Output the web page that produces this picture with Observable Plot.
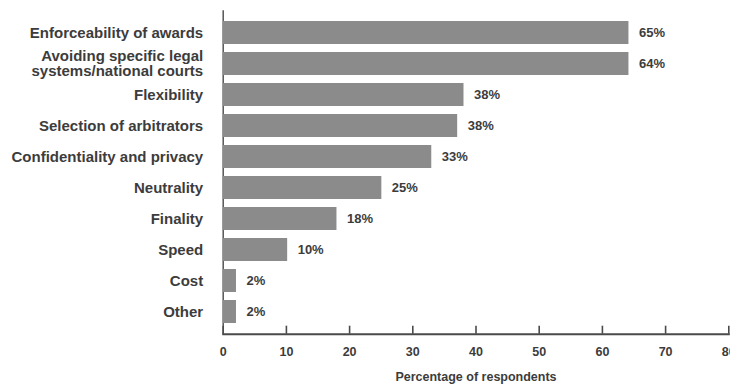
<!DOCTYPE html>
<html><head><meta charset="utf-8">
<script src="https://cdn.jsdelivr.net/npm/d3@7"></script>
<script src="https://cdn.jsdelivr.net/npm/@observablehq/plot@0.6"></script>
<style>body{margin:0;background:#fff;overflow:hidden;}</style>
</head><body><div id="chart"></div>
<script>
const categories = [
  "Enforceability of awards",
  "Avoiding specific legal\nsystems/national courts",
  "Flexibility",
  "Selection of arbitrators",
  "Confidentiality and privacy",
  "Neutrality",
  "Finality",
  "Speed",
  "Cost",
  "Other"
];
const barValues = [64.2, 64.2, 38.1, 37.1, 33, 25.1, 18, 10.2, 2.1, 2.1];
const valueLabels = ["65%", "64%", "38%", "38%", "33%", "25%", "18%", "10%", "2%", "2%"];
const xTicks = [0, 10, 20, 30, 40, 50, 60, 70, 80];
const xTitle = "Percentage of respondents";

const data = categories.map((c, i) => ({cat: c, value: barValues[i], label: valueLabels[i]}));

const W = 730, H = 384, mTop = 10.3, mBottom = 50.3;
const frameH = H - mTop - mBottom;

const chart = Plot.plot({
  width: W, height: H,
  marginLeft: 222.7, marginRight: 1.7, marginTop: mTop, marginBottom: mBottom,
  style: {fontFamily: "'Liberation Sans', Arial, sans-serif", color: "#3c3c3c", background: "#fff", overflow: "visible"},
  x: {domain: [0, 80]},
  y: {domain: categories, paddingInner: 0.26, paddingOuter: 0.21},
  marks: [
    Plot.ruleX([0], {stroke: "#555", strokeWidth: 1.5}),
    Plot.barX(data, {x: "value", y: "cat", fill: "#8b8b8b"}),
    Plot.text(data, {x: "value", y: "cat", text: "label", dx: 10, textAnchor: "start", fontWeight: "bold", fontSize: 13, fill: "#3c3c3c"}),
    Plot.frame({anchor: "bottom", stroke: "#4a4a4a", strokeWidth: 2}),
    Plot.tickX(xTicks, {x: d => d, insetTop: frameH - 8, stroke: "#4a4a4a", strokeWidth: 1.6}),
    Plot.axisX({ticks: xTicks, tickSize: 0, tickPadding: 13, fontSize: 12.5, fontWeight: "bold", label: xTitle, labelArrow: "none", labelAnchor: "center", labelOffset: 47, tickFormat: d => String(d)}),
    Plot.axisY({tickSize: 0, tickPadding: 20, fontSize: 15, fontWeight: "bold", label: null, lineHeight: 1})
  ]
});
document.getElementById("chart").appendChild(chart);
</script>
</body></html>
